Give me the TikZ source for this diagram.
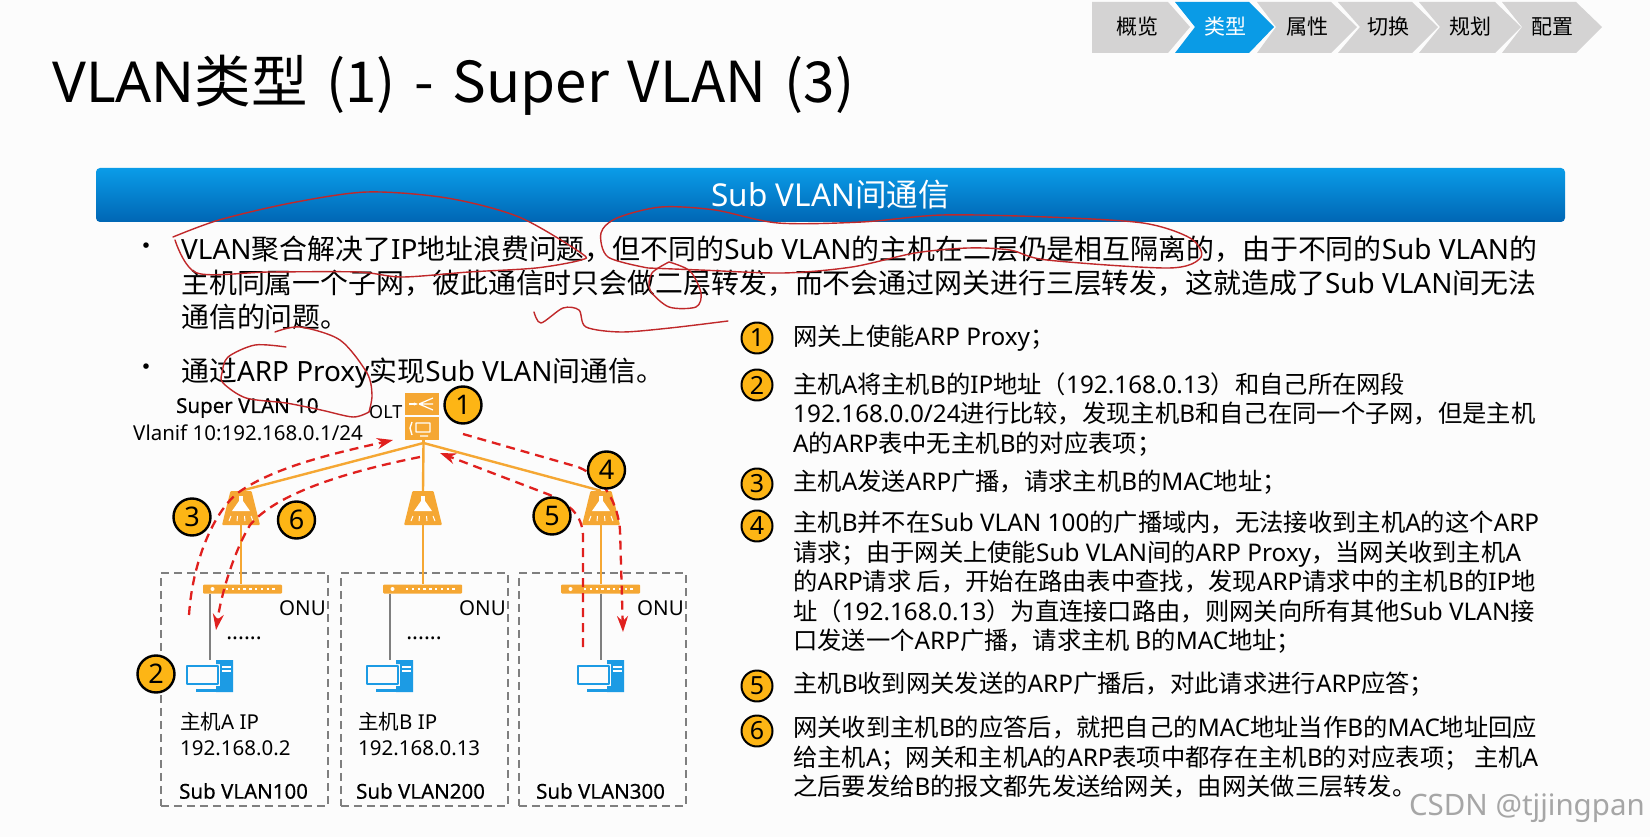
\documentclass[tikz,border=0pt]{standalone}
\usepackage{fontspec}
\setmainfont{Noto Sans CJK SC}
\newfontfamily\ltnfont{Noto Sans}
\newfontfamily\semifont[FakeBold=0.5]{Noto Sans}
\usetikzlibrary{shapes.geometric,arrows.meta}
% chinese runs in the main face, latin runs in Noto Sans
\newcommand\latinsw{\ltnfont}
\newcommand\semilabel{\let\latinsw\semifont\semifont}
\XeTeXinterchartokenstate=1
\newXeTeXintercharclass\cjkcls
\count255="3000 \loop \XeTeXcharclass\count255=\cjkcls \ifnum\count255<"303F \advance\count255 by 1 \repeat
\count255="4E00 \loop \XeTeXcharclass\count255=\cjkcls \ifnum\count255<"9FFF \advance\count255 by 1 \repeat
\count255="FF00 \loop \XeTeXcharclass\count255=\cjkcls \ifnum\count255<"FF60 \advance\count255 by 1 \repeat
\XeTeXinterchartoks 0 \cjkcls={\rmfamily}
\XeTeXinterchartoks 255 \cjkcls={\rmfamily}
\XeTeXinterchartoks \cjkcls 0={\latinsw}
\XeTeXinterchartoks 255 0={\latinsw}
\definecolor{tabgrey}{HTML}{D4D3D3}
\definecolor{tabblue}{HTML}{0A9BE6}
\definecolor{barhi}{HTML}{0A9CE8}
\definecolor{barlo}{HTML}{0066B4}
\definecolor{feedor}{HTML}{F5A733}
\definecolor{badgeor}{HTML}{FDB515}
\definecolor{pcblue}{HTML}{1C9BE4}
\definecolor{inkred}{HTML}{C0282A}
\definecolor{flowred}{HTML}{E0201E}
\definecolor{boxgrey}{HTML}{7F7F7F}
\tikzset{
  pcicon/.pic={
    \draw[pcblue, line width=2pt] (-23,6) rectangle (8,24);
    \fill[pcblue] (6,0) -- (23,0) -- (23,32) -- (6,32) -- (6,26) -- (10,26) -- (10,4) -- (6,4) -- cycle;
    \fill[pcblue] (-14,29) rectangle (6,32);
    \fill[white] (12,6) rectangle (21,7.5);
    \fill[white] (12,10) rectangle (21,11.5);
  },
  lampicon/.pic={
    \fill[white] (-2,-12) rectangle (2,-7);
    \fill[white] (-9,3) -- (-2,-7) -- (2,-7) -- (9,3) -- cycle;
    \draw[white, line width=1pt] (-10,8) -- (-12,13) (-3.5,8) -- (-4,13) (3.5,8) -- (4,13) (10,8) -- (12,13);
  }
}
\begin{document}
\begin{tikzpicture}[x=1pt, y=-1pt, line cap=butt, line join=round,
    tabtext/.style={inner sep=0pt, font=\fontsize{21}{21}\selectfont},
    body/.style={inner sep=0pt, anchor=north west, align=left, font=\fontsize{27.9}{33.8}\selectfont},
    step text/.style={inner sep=0pt, anchor=north west, align=left, font=\fontsize{24.3}{29.5}\selectfont},
    lbl/.style={inner sep=0pt, font=\fontsize{20.5}{20.5}\selectfont},
    lbll/.style={inner sep=0pt, font=\fontsize{20.5}{20.5}\selectfont\ltnfont},
    lblb/.style={inner sep=0pt, anchor=west, font=\fontsize{20.5}{20.5}\selectfont\semilabel},
    badge/.style={circle, draw=black, line width=2.4pt, fill=badgeor, inner sep=0pt, minimum size=37,
      font=\fontsize{27}{27}\selectfont\ltnfont},
    small badge/.style={badge, line width=2pt, minimum size=31, font=\fontsize{25}{25}\selectfont\ltnfont},
    feed/.style={feedor, line width=2.4pt},
    lan/.style={boxgrey, line width=1.6pt},
    subbox/.style={draw=boxgrey, line width=1.6pt, dash pattern=on 8pt off 5pt, inner sep=0pt, anchor=north west},
    lamp/.style={trapezium, trapezium left angle=68, trapezium right angle=68, fill=feedor, inner sep=1pt,
      minimum width=38, minimum height=34, rounded corners=1pt, trapezium stretches=true},
    onubar/.style={fill=feedor, inner sep=0pt, minimum width=79, minimum height=9, rounded corners=1pt},
    flow/.style={flowred, line width=2.3pt, dash pattern=on 9pt off 6pt, -{Stealth[length=16pt, width=11pt]}},
    ink/.style={inkred, line width=1.4pt, line cap=round}]
  \useasboundingbox (0,0) rectangle (1650,837);
  \fill[white!99!black] (0,0) rectangle (1650,837);
  % tabs
  \fill[tabgrey] (1092,2) -- (1168,2) -- (1190,27) -- (1168,53) -- (1092,53) -- cycle;
  \fill[tabblue] (1175,2) -- (1249,2) -- (1274,27) -- (1249,53) -- (1175,53) -- (1195,27) -- cycle;
  \fill[tabgrey] (1257,2) -- (1331,2) -- (1357,27) -- (1331,53) -- (1257,53) -- (1276,27) -- cycle;
  \fill[tabgrey] (1338,2) -- (1412,2) -- (1438,27) -- (1412,53) -- (1338,53) -- (1360,27) -- cycle;
  \fill[tabgrey] (1419,2) -- (1495,2) -- (1521,27) -- (1495,53) -- (1419,53) -- (1440,27) -- cycle;
  \fill[tabgrey] (1502,2) -- (1576,2) -- (1602,27) -- (1576,53) -- (1502,53) -- (1522,27) -- cycle;
  \node[tabtext] (t1) at (1137,27) {概览};
  \node[tabtext, text=white] (t2) at (1225,27) {类型};
  \node[tabtext] (t3) at (1307,27) {属性};
  \node[tabtext] (t4) at (1388,27) {切换};
  \node[tabtext] (t5) at (1470,27) {规划};
  \node[tabtext] (t6) at (1552,27) {配置};
  % title and bar
  \node[inner sep=0pt, anchor=west, font=\fontsize{56.5}{56.5}\selectfont\ltnfont] (title) at (52,85)
    {VLAN类型\hspace{6pt} (1)\hspace{6pt} -\hspace{6pt} Super\hspace{6pt} VLAN\hspace{6pt} (3)};
  \node[top color=barhi, bottom color=barlo, rounded corners=4pt, inner sep=0pt, minimum width=1469, minimum height=54,
    text=white, font=\fontsize{31.5}{31.5}\selectfont\ltnfont] (bar) at (830.5,195) {Sub VLAN间通信};
  % body
  \node[inner sep=0pt, font=\fontsize{26}{26}\selectfont] (dot1) at (146,249) {•};
  \node[inner sep=0pt, font=\fontsize{26}{26}\selectfont] (dot2) at (146,370) {•};
  \node[body] (p1) at (181,236) {\ltnfont VLAN聚合解决了IP地址浪费问题，但不同的Sub VLAN的主机在二层仍是相互隔离的，由于不同的Sub VLAN的\\
    主机同属一个子网，彼此通信时只会做二层转发，而不会通过网关进行三层转发，这就造成了Sub VLAN间无法\\
    通信的问题。};
  \node[body] (p2) at (181,358) {通过ARP Proxy实现Sub VLAN间通信。};
  % steps
  \node[small badge] (n1) at (757,338) {1};
  \node[small badge] (n2) at (757,385) {2};
  \node[small badge] (n3) at (757,484) {3};
  \node[small badge] (n4) at (757,526) {4};
  \node[small badge] (n5) at (757,686) {5};
  \node[small badge] (n6) at (757,731) {6};
  \node[step text] (s1) at (793,325) {网关上使能ARP Proxy；};
  \node[step text] (s2) at (793,372) {主机A将主机B的IP地址（192.168.0.13）和自己所在网段\\
    \ltnfont 192.168.0.0/24进行比较，发现主机B和自己在同一个子网，但是主机\\
    \ltnfont A的ARP表中无主机B的对应表项；};
  \node[step text] (s3) at (793,470) {主机A发送ARP广播，请求主机B的MAC地址；};
  \node[step text] (s4) at (793,511) {主机B并不在Sub VLAN 100的广播域内，无法接收到主机A的这个ARP\\
    请求；由于网关上使能Sub VLAN间的ARP Proxy，当网关收到主机A\\
    的ARP请求 后，开始在路由表中查找，发现ARP请求中的主机B的IP地\\
    址（192.168.0.13）为直连接口路由，则网关向所有其他Sub VLAN接\\
    口发送一个ARP广播，请求主机 B的MAC地址；};
  \node[step text] (s5) at (793,672) {主机B收到网关发送的ARP广播后，对此请求进行ARP应答；};
  \node[step text] (s6) at (793,716) {网关收到主机B的应答后，就把自己的MAC地址当作B的MAC地址回应\\
    给主机A；网关和主机A的ARP表项中都存在主机B的对应表项； 主机A\\
    之后要发给B的报文都先发送给网关，由网关做三层转发。};
  % sub vlan boxes
  \node[subbox, minimum width=167, minimum height=233] (b1) at (160,572) {};
  \node[subbox, minimum width=167, minimum height=233] (b2) at (340,572) {};
  \node[subbox, minimum width=167, minimum height=233] (b3) at (518,572) {};
  \node[lblb] (v1) at (179,791) {Sub VLAN100};
  \node[lblb] (v2) at (356,791) {Sub VLAN200};
  \node[lblb] (v3) at (536,791) {Sub VLAN300};
  \node[lbll, anchor=east] (u1) at (326,608) {ONU};
  \node[lbll, anchor=east] (u2) at (506,608) {ONU};
  \node[lbll, anchor=east] (u3) at (684,608) {ONU};
  \node[lbl, anchor=west] (a1) at (180,722) {主机A IP};
  \node[lbll, anchor=west] (a2) at (180,748) {192.168.0.2};
  \node[lbl, anchor=west] (c1) at (358,722) {主机B IP};
  \node[lbll, anchor=west] (c2) at (358,748) {192.168.0.13};
  \node[lblb] (super) at (176,408) {Super VLAN 10};
  \node[lbll, anchor=west] (vif) at (133,433) {Vlanif 10:192.168.0.1/24};
  \node[lbll, anchor=west, font=\fontsize{18}{18}\selectfont\ltnfont] (oltname) at (369,412) {OLT};
  % olt
  \node[fill=feedor, inner sep=0pt, minimum width=34, minimum height=22] (olt1) at (422,404) {};
  \node[fill=feedor, inner sep=0pt, minimum width=34, minimum height=23] (olt2) at (422,428.5) {};
  \draw[white, line width=1.4pt, -{Stealth[length=4pt]}] (409,404) -- (418,404);
  \draw[white, line width=1.2pt] (419,404) -- (433,398) (419,404) -- (433,404) (419,404) -- (433,410);
  \draw[white, line width=1.4pt] (416,423) rectangle (430,432) (420,436) -- (428,436) (412,422) -- (410,428) -- (412,435);
  \coordinate (root) at (423.5,443);
  % lamps
  \node[lamp] (l1) at (241,508) {};
  \node[lamp] (l2) at (423,508) {};
  \node[lamp] (l3) at (601,508) {};
  \pic at (l1) {lampicon};
  \pic at (l2) {lampicon};
  \pic at (l3) {lampicon};
  \node[onubar] (o1) at (242.5,589) {};
  \node[onubar] (o2) at (422.5,589) {};
  \node[onubar] (o3) at (600.5,589) {};
  \draw[feed] (root) -- (olt2.south -| root);
  \draw[feed] (root) -- (l1.north);
  \draw[feed] (root) -- (l2.north);
  \draw[feed] (root) -- (l3.north);
  \draw[feed] (l1.south) -- (o1.north -| l1);
  \draw[feed] (l2.south) -- (o2.north -| l2);
  \draw[feed] (l3.south) -- (o3.north -| l3);
  \draw[white, line width=2.4pt, dash pattern=on 2.4pt off 3.4pt] (226,589) -- (276,589);
  \draw[white, line width=2.4pt, dash pattern=on 2.4pt off 3.4pt] (406,589) -- (456,589);
  \draw[white, line width=2.4pt, dash pattern=on 2.4pt off 3.4pt] (584,589) -- (634,589);
  \fill[white] (212.5,589) circle (2);
  \fill[white] (392.5,589) circle (2);
  \fill[white] (570.5,589) circle (2);
  % hosts
  \coordinate (h1) at (210,660);
  \coordinate (h2) at (390,660);
  \coordinate (h3) at (601,660);
  \draw[lan] (h1 |- o1.south) -- (h1);
  \draw[lan] (h2 |- o2.south) -- (h2);
  \draw[lan] (h3 |- o3.south) -- (h3);
  \pic at (h1) {pcicon};
  \pic at (h2) {pcicon};
  \pic at (h3) {pcicon};
  \node[lbl, font=\fontsize{22}{22}\selectfont\ltnfont] (d1) at (244,638) {......};
  \node[lbl, font=\fontsize{22}{22}\selectfont\ltnfont] (d2) at (424,638) {......};
  % red flows
  \coordinate (f1) at (189,615);
  \coordinate (f2) at (393,440);
  \draw[flow] (f1) .. controls (193,555) and (218,505) .. (242,490) .. controls (280,465) and (340,452) .. (f2);
  \coordinate (f3) at (420,457);
  \coordinate (f4) at (216,630);
  \draw[flow] (f3) .. controls (340,473) and (275,495) .. (250,525) .. controls (235,550) and (222,590) .. (f4);
  \coordinate (f5) at (583,647);
  \coordinate (f6) at (440,453);
  \draw[flow] (f5) -- (583,535) .. controls (582,515) and (570,505) .. (550,495) -- (f6);
  \coordinate (f7) at (463,434);
  \coordinate (f8) at (623,632);
  \draw[flow] (f7) -- (578,467) .. controls (605,478) and (618,505) .. (620,530) -- (f8);
  % badges
  \node[badge] (k1) at (463,405) {1};
  \node[badge] (k2) at (156,674) {2};
  \node[badge] (k3) at (192,517) {3};
  \node[badge] (k4) at (606.5,470) {4};
  \node[badge] (k5) at (552,516) {5};
  \node[badge] (k6) at (296.5,520) {6};
  % pen strokes
  \draw[ink] plot[smooth] coordinates {(173,237) (219,220) (291,203) (367,192) (447,198) (519,217) (581,253) (581,260)
    (536,268) (469,272) (402,277) (358,272) (269,272) (197,273) (175,240)};
  \draw[ink] plot[smooth] coordinates {(648,268) (608,257) (601,233) (617,218) (661,207) (715,210) (778,223) (862,222)
    (942,215) (1047,217) (1143,223) (1190,238) (1201,257) (1169,268) (1047,260) (1010,250) (968,248) (915,253) (852,267)
    (783,273) (700,270) (648,268)};
  \draw[ink] plot[smooth] coordinates {(669,262) (652,273) (650,290) (669,307) (696,307) (701,293) (690,271) (669,262)};
  \draw[ink] plot[smooth] coordinates {(534,312) (541,323) (563,308) (579,310) (586,327) (621,332) (670,328) (728,321)};
  \draw[ink] plot[smooth] coordinates {(286,347) (255,345) (228,357) (222,373) (223,383) (246,398) (286,403) (321,410)
    (353,417) (369,412)};
  \draw[ink] plot[smooth] coordinates {(275,332) (300,327) (340,340) (367,373) (372,395) (369,412)};
  % watermark
  \node[inner sep=0pt, anchor=east, text=black!35, font=\fontsize{29.5}{29.5}\selectfont\ltnfont] (mark) at (1645,808) {CSDN @tjjingpan};
\end{tikzpicture}
\end{document}
